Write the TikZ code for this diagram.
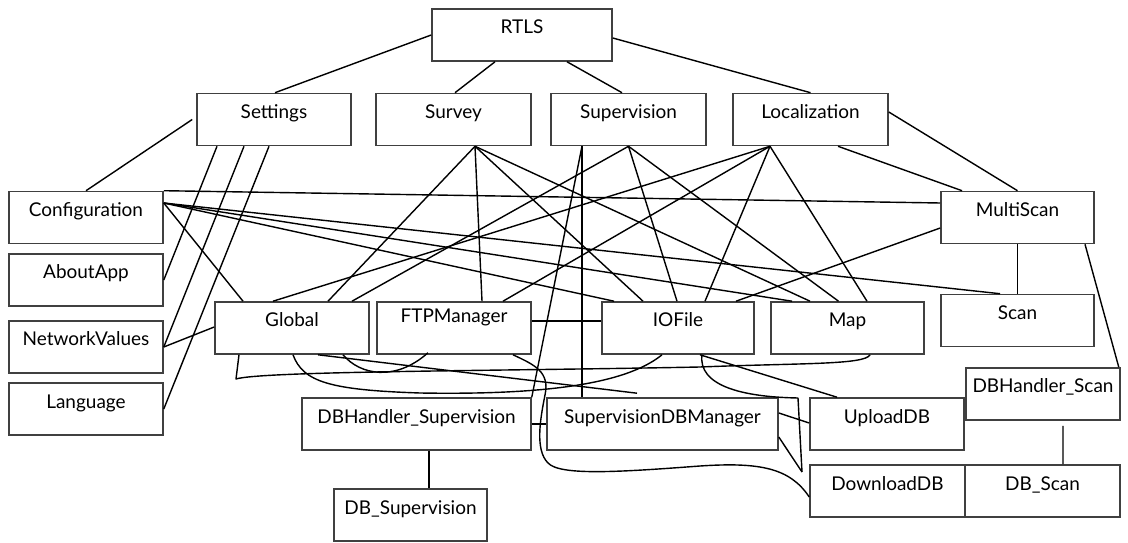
\documentclass[tikz,border=0pt]{standalone}
\usepackage{fontspec}
\setmainfont{Lato}
\usepackage{tikz}
\usetikzlibrary{calc}
\tikzset{
  box/.style={draw=black!75, line width=0.9pt, minimum height=1.04cm,
              text height=0.27cm, text depth=0.31cm, inner sep=0pt,
              font=\fontsize{10.8}{13}\selectfont},
  link/.style={line width=0.8pt, line join=round},
}
\begin{document}
\begin{tikzpicture}[x=0.02cm,y=-0.02cm]
\useasboundingbox (0,0) rectangle (1128,543);
% modules
\node[box, minimum width=3.6cm]  (rtls)         at (522,35)     {RTLS};
\node[box, minimum width=3.08cm] (settings)     at (274,119.5)  {Settings};
\node[box, minimum width=3.1cm]  (survey)       at (453.5,119.5) {Survey};
\node[box, minimum width=3.1cm]  (supervision)  at (628.5,119.5) {Supervision};
\node[box, minimum width=3.1cm]  (localization) at (810.5,119.5) {Localization};
% left column
\node[box, minimum width=3.08cm] (cfg)    at (86,217.5) {Configuration};
\node[box, minimum width=3.08cm] (about)  at (86,280)   {AboutApp};
\node[box, minimum width=3.08cm] (netval) at (86,347)   {NetworkValues};
\node[box, minimum width=3.08cm] (lang)   at (86,409)   {Language};
% shared classes
\node[box, minimum width=3.08cm] (global) at (292,328)   {Global};
\node[box, minimum width=3.08cm, text depth=0.47cm] (ftp) at (454,328) {FTPManager};
\node[box, minimum width=3.04cm] (iofile) at (678,328)   {IOFile};
\node[box, minimum width=3.06cm] (map)    at (847.5,328) {Map};
\node[box, minimum width=3.06cm] (multi)  at (1017.5,217.5) {MultiScan};
\node[box, minimum width=3.06cm] (scan)   at (1017.5,320.5) {Scan};
% database layer
\node[box, minimum width=3.08cm] (dbhs)     at (1043,394)   {DBHandler\_Scan};
\node[box, minimum width=4.58cm] (dbhsup)   at (416.5,424)  {DBHandler\_Supervision};
\node[box, minimum width=4.62cm] (supdb)    at (662.5,424)  {SupervisionDBManager};
\node[box, minimum width=3.08cm] (upload)   at (887,424)    {UploadDB};
\node[box, minimum width=3.1cm]  (download) at (887.5,491)  {DownloadDB};
\node[box, minimum width=3.1cm]  (dbscan)   at (1042.5,491) {DB\_Scan};
\node[box, minimum width=3.06cm] (dbsup)    at (410.5,515)  {DB\_Supervision};
\coordinate (tip) at (802,472);

% root
\draw[link] (rtls.west) -- ($(settings.north)+(1,0)$);
\draw[link] ($(rtls.south)+(-27,0)$) -- ($(survey.north)+(1.5,0)$);
\draw[link] ($(rtls.south)+(45,0)$) -- ($(supervision.north)+(-6.5,0)$);
\draw[link] ($(rtls.east)+(0,3)$) -- (localization.north);
% settings
\draw[link] ($(settings.west)+(-4,0)$) -- (cfg.north);
\draw[link] ($(settings.south)+(-57,0)$) -- (about.east);
\draw[link] ($(settings.south)+(-30,0)$) -- (netval.east);
\draw[link] ($(settings.south)+(-5,0)$) -- (lang.east);
% survey
\draw[link] ($(survey.south)+(21.5,0)$) -- ($(global.north)+(36,0)$);
\draw[link] ($(survey.south)+(21.5,0)$) -- ($(ftp.north)+(28,0)$);
\draw[link] ($(survey.south)+(21.5,0)$) -- ($(iofile.north)+(-35,0)$);
\draw[link] ($(survey.south)+(21.5,0)$) -- ($(map.north)+(-37.5,0)$);
% supervision
\draw[link] (supervision.south) -- ($(global.north)+(60,0)$);
\draw[link] (supervision.south) -- ($(iofile.north)+(-1,0)$);
\draw[link] (supervision.south) -- ($(map.north)+(-9,0)$);
\draw[link] ($(supervision.south)+(-46.5,0)$) -- ($(supdb.north)+(-80.5,0)$);
\draw[link] ($(supervision.south)+(-46.5,0)$) -- (dbhsup.north east);
% localization
\draw[link] ($(localization.south)+(-40.5,0)$) -- ($(global.north)+(-19,0)$);
\draw[link] ($(localization.south)+(-40.5,0)$) -- ($(ftp.north)+(49,0)$);
\draw[link] ($(localization.south)+(-40.5,0)$) -- ($(iofile.north)+(27,0)$);
\draw[link] ($(localization.south)+(-40.5,0)$) -- ($(map.north)+(19.5,0)$);
\draw[link] ($(localization.south)+(27.5,0)$) -- ($(multi.north)+(-55.5,0)$);
\draw[link] ($(localization.east)+(0,-7.5)$) -- (multi.north);
% configuration
\draw[link] (cfg.north east) -- ($(multi.west)+(0,-14.5)$);
\draw[link] ($(cfg.east)+(0,-14.5)$) -- ($(global.north)+(-49,0)$);
\draw[link] ($(cfg.east)+(0,-14.5)$) -- ($(iofile.north)+(-64,0)$);
\draw[link] ($(cfg.east)+(0,-14.5)$) -- ($(map.north)+(-55.5,0)$);
\draw[link] ($(cfg.east)+(0,-14.5)$) -- ($(scan.north)+(-17.5,0)$);
\draw[link] (netval.east) -- ($(global.west)+(0,-1)$);
% multiscan
\draw[link] ($(multi.west)+(0,10.5)$) -- ($(iofile.north)+(58,0)$);
\draw[link] (multi.south) -- (scan.north);
\draw[link] ($(multi.south)+(67.5,0)$) -- ($(dbhs.north east)+(-2,0)$);
\draw[link] ($(ftp.east)+(0,-7)$) -- ($(iofile.west)+(0,-7)$);
% bottom tangle
\draw[link] ($(global.south)+(-53,0)$) -- (236,379)
  .. controls (262,371) and (500,371) .. (700,367)
  .. controls (800,363) and (865,365) .. ($(map.south)+(22.5,0)$);
\draw[link] ($(global.south)+(1,0)$) .. controls (303,382) and (330,390) .. (420,393)
  .. controls (540,395) and (625,385) .. ($(iofile.south)+(-16,0)$);
\draw[link] ($(global.south)+(26,0)$) -- ($(supdb.north)+(-25.5,-4)$);
\draw[link] ($(global.south)+(51,0)$) .. controls (360,375) and (395,382)
  .. ($(ftp.south)+(-26,-2)$);
\draw[link] ($(ftp.south)+(59,0)$) .. controls (535,365) and (550,372) .. (545,395)
  .. controls (540,420) and (535,450) .. (548,463)
  .. controls (560,476) and (620,472) .. (700,466)
  .. controls (760,462) and (790,468) .. ($(download.west)+(0,6)$);
\draw[link] ($(iofile.south)+(22,0)$) -- ($(upload.north)+(-50,0)$);
\draw[link] ($(iofile.south)+(24,0)$) .. controls (698,385) and (740,397) .. (798,398)
  -- (tip);
\draw[link] ($(supdb.east)+(0,13)$) -- (tip);
% database links
\draw[link] (dbhsup.east) -- (supdb.west);
\draw[link] ($(dbhsup.south)+(12.5,0)$) -- ($(dbsup.north)+(18.5,0)$);
\draw[link] ($(supdb.east)+(0,-11)$) -- ($(upload.west)+(0,-1)$);
\draw[link] ($(dbhs.south)+(20,5)$) -- ($(dbscan.north)+(20.5,0)$);
\end{tikzpicture}
\end{document}
